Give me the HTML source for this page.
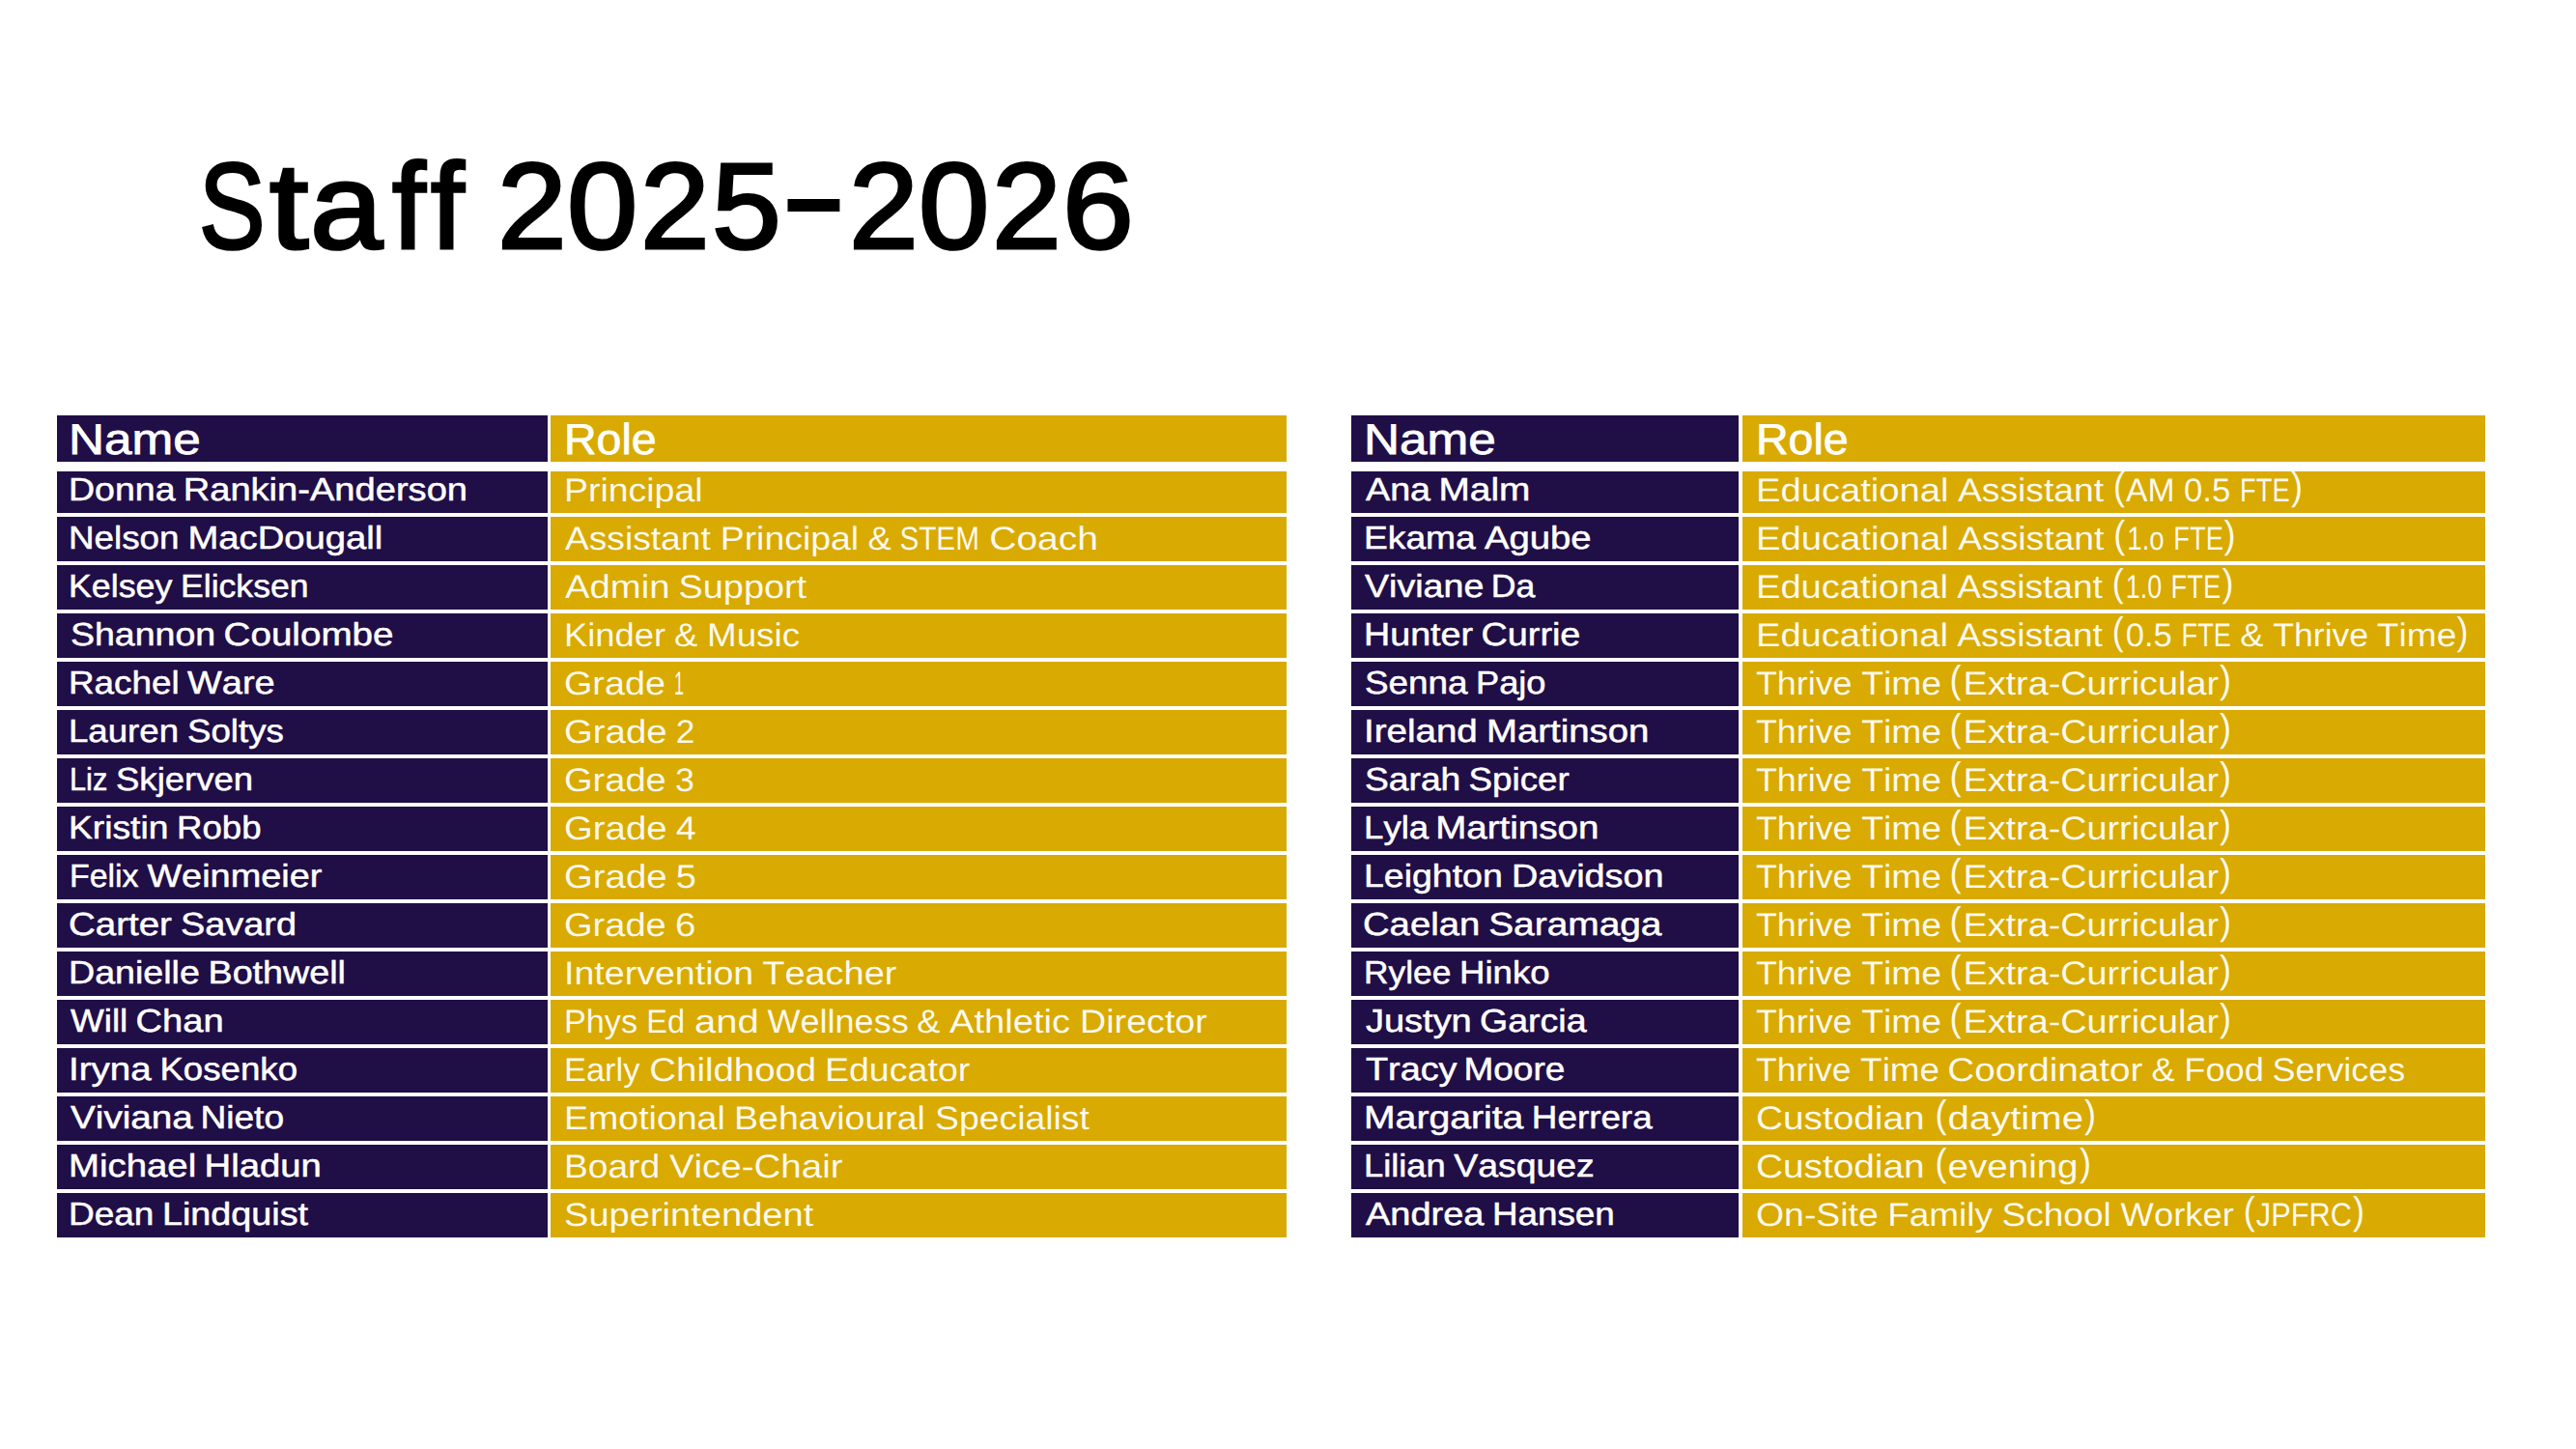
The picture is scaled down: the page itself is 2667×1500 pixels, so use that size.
<!DOCTYPE html>
<html lang="en">
<head>
<meta charset="utf-8">
<title>Staff 2025-2026</title>
<style>
html,body{margin:0;padding:0;background:#fff}
body{width:2667px;height:1500px;position:relative;overflow:hidden;
 font-family:"Liberation Sans",sans-serif;font-kerning:none;font-variant-ligatures:none;text-rendering:geometricPrecision}
h1,span,i,.r,.c{position:absolute;font-style:normal;top:0;margin:0;white-space:nowrap;line-height:1;transform-origin:0 0;font-weight:400}
.r{left:0;width:2667px}
.p{transform-origin:0 0.8465em}
.c{height:100%}
h1{left:0;top:0;width:2667px;height:400px;font-size:126.5px;color:#000;-webkit-text-stroke:3.1px #000}
h1 span{font-size:inherit}
.t1 .n{left:59.1px;width:507.6px}
.t1 .v{left:570.1px;width:761.7px}
.t2 .n{left:1399.2px;width:400.5px}
.t2 .v{left:1804.2px;width:768.6px}
.n{background:#200e47}
.v{background:#d9aa01}
.a{font-size:33.3px;color:#fff;-webkit-text-stroke:0.5px #fff}
.b{font-size:34.0px;color:rgba(255,255,255,.94)}
.h{font-size:44.7px;color:#fff;-webkit-text-stroke:0.75px #fff}
</style>
</head>
<body>
<h1><span style="left:206.1px;top:149.9px;transform:scaleX(0.812)">S</span><span style="left:278.7px;top:149.9px;transform:scaleX(1.149)">t</span><span style="left:320.6px;top:149.9px;transform:scaleX(1.068)">a</span><span style="left:406.3px;top:149.9px;transform:scaleX(0.984)">f</span><span style="left:445.5px;top:149.9px;transform:scaleX(0.984)">f</span> <span style="left:514.9px;top:149.9px;transform:scaleX(1.019)">2</span><span style="left:587.4px;top:149.9px;transform:scaleX(1.041)">0</span><span style="left:662.8px;top:149.9px;transform:scaleX(1.019)">2</span><span style="left:737.1px;top:149.9px;transform:scaleX(1.020)">5</span><span style="left:808.7px;top:139.2px;transform:scaleX(1.587)">-</span><span style="left:878.7px;top:149.9px;transform:scaleX(1.020)">2</span><span style="left:951.3px;top:149.9px;transform:scaleX(1.042)">0</span><span style="left:1026.8px;top:149.9px;transform:scaleX(1.020)">2</span><span style="left:1099.6px;top:149.9px;transform:scaleX(1.049)">6</span></h1>
<section class="tbl t1">
<div class="r hd" style="top:430.0px;height:47.8px"><div class="c n"><span class="h" style="left:11.9px;top:3.5px;transform:scaleX(1.0077)"><i style="left:0.0px;transform:scaleX(1.139)">Name</i></span></div><div class="c v"><span class="h" style="left:13.9px;top:3.5px"><i style="left:0.0px;transform:scaleX(1.040)">Role</i></span></div></div>
<div class="r" style="top:488.4px;height:42.2px"><div class="c n"><span class="a" style="left:11.9px;top:2.8px;transform:scaleX(0.9974)"><i style="left:0.0px;transform:scaleX(1.129)">Donna</i> <i style="left:119.4px;transform:scaleX(1.147)">Rankin-Anderson</i></span></div><div class="c v"><span class="b" style="left:13.5px;top:2.5px"><i style="left:0.0px;transform:scaleX(1.101)">Principal</i></span></div></div>
<div class="r" style="top:535.3px;height:45.4px"><div class="c n"><span class="a" style="left:11.9px;top:5.9px;transform:scaleX(1.0031)"><i style="left:0.0px;transform:scaleX(1.101)">Nelson</i> <i style="left:122.7px;transform:scaleX(1.145)">MacDougall</i></span></div><div class="c v"><span class="b" style="left:14.5px;top:5.6px;transform:scaleX(0.9982)"><i style="left:0.0px;transform:scaleX(1.095)">Assistant</i> <i style="left:160.5px;transform:scaleX(1.102)">Principal</i> <i style="left:313.6px;transform:scaleX(1.073)">&amp;</i> <i style="left:347.4px;transform:scaleX(0.876)">STEM</i> <i style="left:439.6px;transform:scaleX(1.150)">Coach</i></span></div></div>
<div class="r" style="top:585.3px;height:45.4px"><div class="c n"><span class="a" style="left:11.9px;top:5.9px;transform:scaleX(0.9918)"><i style="left:0.0px;transform:scaleX(1.083)">Kelsey</i> <i style="left:116.9px;transform:scaleX(1.077)">Elicksen</i></span></div><div class="c v"><span class="b" style="left:14.5px;top:5.6px;transform:scaleX(0.9960)"><i style="left:0.0px;transform:scaleX(1.130)">Admin</i> <i style="left:118.4px;transform:scaleX(1.118)">Support</i></span></div></div>
<div class="r" style="top:635.3px;height:45.4px"><div class="c n"><span class="a" style="left:13.9px;top:5.9px;transform:scaleX(0.9970)"><i style="left:0.0px;transform:scaleX(1.129)">Shannon</i> <i style="left:159.2px;transform:scaleX(1.163)">Coulombe</i></span></div><div class="c v"><span class="b" style="left:13.5px;top:5.6px"><i style="left:0.0px;transform:scaleX(1.070)">Kinder</i> <i style="left:114.7px;transform:scaleX(1.073)">&amp;</i> <i style="left:148.5px;transform:scaleX(1.082)">Music</i></span></div></div>
<div class="r" style="top:685.3px;height:45.4px"><div class="c n"><span class="a" style="left:11.9px;top:5.9px"><i style="left:0.0px;transform:scaleX(1.106)">Rachel</i> <i style="left:123.3px;transform:scaleX(1.140)">Ware</i></span></div><div class="c v"><span class="b" style="left:13.5px;top:5.6px;transform:scaleX(0.9918)"><i style="left:0.0px;transform:scaleX(1.119)">Grade</i> <i style="left:115.2px;transform:scaleX(0.535)">1</i></span></div></div>
<div class="r" style="top:735.3px;height:45.4px"><div class="c n"><span class="a" style="left:11.9px;top:5.9px"><i style="left:0.0px;transform:scaleX(1.100)">Lauren</i> <i style="left:122.7px;transform:scaleX(1.101)">Soltys</i></span></div><div class="c v"><span class="b" style="left:13.5px;top:5.6px;transform:scaleX(1.0076)"><i style="left:0.0px;transform:scaleX(1.119)">Grade</i> <i style="left:115.2px;transform:scaleX(1.029)">2</i></span></div></div>
<div class="r" style="top:785.3px;height:45.4px"><div class="c n"><span class="a" style="left:12.9px;top:5.9px"><i style="left:0.0px;transform:scaleX(0.923)">Liz</i> <i style="left:48.0px;transform:scaleX(1.097)">Skjerven</i></span></div><div class="c v"><span class="b" style="left:13.5px;top:5.6px"><i style="left:0.0px;transform:scaleX(1.119)">Grade</i> <i style="left:115.2px;transform:scaleX(1.052)">3</i></span></div></div>
<div class="r" style="top:835.3px;height:45.4px"><div class="c n"><span class="a" style="left:11.9px;top:5.9px"><i style="left:0.0px;transform:scaleX(1.117)">Kristin</i> <i style="left:112.0px;transform:scaleX(1.100)">Robb</i></span></div><div class="c v"><span class="b" style="left:13.5px;top:5.6px;transform:scaleX(1.0075)"><i style="left:0.0px;transform:scaleX(1.119)">Grade</i> <i style="left:115.2px;transform:scaleX(1.101)">4</i></span></div></div>
<div class="r" style="top:885.3px;height:45.4px"><div class="c n"><span class="a" style="left:12.9px;top:5.9px;transform:scaleX(0.9923)"><i style="left:0.0px;transform:scaleX(1.024)">Felix</i> <i style="left:80.6px;transform:scaleX(1.146)">Weinmeier</i></span></div><div class="c v"><span class="b" style="left:13.5px;top:5.6px;transform:scaleX(1.0076)"><i style="left:0.0px;transform:scaleX(1.119)">Grade</i> <i style="left:115.2px;transform:scaleX(1.108)">5</i></span></div></div>
<div class="r" style="top:935.3px;height:45.4px"><div class="c n"><span class="a" style="left:11.9px;top:5.9px"><i style="left:0.0px;transform:scaleX(1.156)">Carter</i> <i style="left:115.6px;transform:scaleX(1.137)">Savard</i></span></div><div class="c v"><span class="b" style="left:13.5px;top:5.6px"><i style="left:0.0px;transform:scaleX(1.119)">Grade</i> <i style="left:115.2px;transform:scaleX(1.130)">6</i></span></div></div>
<div class="r" style="top:985.3px;height:45.4px"><div class="c n"><span class="a" style="left:11.9px;top:5.9px;transform:scaleX(1.0036)"><i style="left:0.0px;transform:scaleX(1.125)">Danielle</i> <i style="left:144.0px;transform:scaleX(1.128)">Bothwell</i></span></div><div class="c v"><span class="b" style="left:13.5px;top:5.6px;transform:scaleX(0.9819)"><i style="left:0.0px;transform:scaleX(1.125)">Intervention</i> <i style="left:209.4px;transform:scaleX(1.137)">Teacher</i></span></div></div>
<div class="r" style="top:1035.3px;height:45.4px"><div class="c n"><span class="a" style="left:13.9px;top:5.9px;transform:scaleX(0.9937)"><i style="left:0.0px;transform:scaleX(1.113)">Will</i> <i style="left:68.3px;transform:scaleX(1.151)">Chan</i></span></div><div class="c v"><span class="b" style="left:13.5px;top:5.6px;transform:scaleX(0.9927)"><i style="left:0.0px;transform:scaleX(1.013)">Phys</i> <i style="left:86.0px;transform:scaleX(0.962)">Ed</i> <i style="left:135.5px;transform:scaleX(1.185)">and</i> <i style="left:212.2px;transform:scaleX(1.068)">Wellness</i> <i style="left:368.3px;transform:scaleX(1.073)">&amp;</i> <i style="left:402.2px;transform:scaleX(1.130)">Athletic</i> <i style="left:537.6px;transform:scaleX(1.115)">Director</i></span></div></div>
<div class="r" style="top:1085.3px;height:45.4px"><div class="c n"><span class="a" style="left:11.9px;top:5.9px;transform:scaleX(1.0043)"><i style="left:0.0px;transform:scaleX(1.151)">Iryna</i> <i style="left:93.9px;transform:scaleX(1.096)">Kosenko</i></span></div><div class="c v"><span class="b" style="left:13.5px;top:5.6px;transform:scaleX(0.9922)"><i style="left:0.0px;transform:scaleX(1.020)">Early</i> <i style="left:88.5px;transform:scaleX(1.138)">Childhood</i> <i style="left:272.2px;transform:scaleX(1.114)">Educator</i></span></div></div>
<div class="r" style="top:1135.3px;height:45.4px"><div class="c n"><span class="a" style="left:13.9px;top:5.9px;transform:scaleX(0.9955)"><i style="left:0.0px;transform:scaleX(1.167)">Viviana</i> <i style="left:135.4px;transform:scaleX(1.120)">Nieto</i></span></div><div class="c v"><span class="b" style="left:13.5px;top:5.6px;transform:scaleX(0.9949)"><i style="left:0.0px;transform:scaleX(1.109)">Emotional</i> <i style="left:177.2px;transform:scaleX(1.107)">Behavioural</i> <i style="left:385.5px;transform:scaleX(1.104)">Specialist</i></span></div></div>
<div class="r" style="top:1185.3px;height:45.4px"><div class="c n"><span class="a" style="left:11.9px;top:5.9px;transform:scaleX(1.0039)"><i style="left:0.0px;transform:scaleX(1.148)">Michael</i> <i style="left:140.4px;transform:scaleX(1.144)">Hladun</i></span></div><div class="c v"><span class="b" style="left:13.5px;top:5.6px;transform:scaleX(0.9900)"><i style="left:0.0px;transform:scaleX(1.104)">Board</i> <i style="left:109.7px;transform:scaleX(1.143)">Vice-Chair</i></span></div></div>
<div class="r" style="top:1235.3px;height:45.4px"><div class="c n"><span class="a" style="left:11.9px;top:5.9px"><i style="left:0.0px;transform:scaleX(1.111)">Dean</i> <i style="left:97.1px;transform:scaleX(1.133)">Lindquist</i></span></div><div class="c v"><span class="b" style="left:13.5px;top:5.6px;transform:scaleX(0.9961)"><i style="left:0.0px;transform:scaleX(1.124)">Superintendent</i></span></div></div>
</section>
<section class="tbl t2">
<div class="r hd" style="top:430.0px;height:47.8px"><div class="c n"><span class="h" style="left:13.1px;top:3.5px;transform:scaleX(1.0077)"><i style="left:0.0px;transform:scaleX(1.139)">Name</i></span></div><div class="c v"><span class="h" style="left:13.8px;top:3.5px"><i style="left:0.0px;transform:scaleX(1.040)">Role</i></span></div></div>
<div class="r" style="top:488.4px;height:42.2px"><div class="c n"><span class="a" style="left:15.1px;top:2.8px;transform:scaleX(0.9941)"><i style="left:0.0px;transform:scaleX(1.139)">Ana</i> <i style="left:76.1px;transform:scaleX(1.172)">Malm</i></span></div><div class="c v"><span class="b" style="left:13.4px;top:2.5px"><i style="left:0.0px;transform:scaleX(1.123)">Educational</i> <i style="left:209.0px;transform:scaleX(1.095)">Assistant</i> <i class="p" style="left:370.4px;transform:translateY(-2px) scale(1.057,1.177)">(</i><i style="left:383.8px;transform:scaleX(0.991)">AM</i> <i style="left:443.9px;transform:scaleX(1.022)">0.5</i> <i style="left:501.6px;transform:scaleX(0.804)">FTE</i><i class="p" style="left:554.4px;transform:translateY(-2px) scale(1.057,1.177)">)</i></span></div></div>
<div class="r" style="top:535.3px;height:45.4px"><div class="c n"><span class="a" style="left:13.1px;top:5.9px"><i style="left:0.0px;transform:scaleX(1.117)">Ekama</i> <i style="left:124.4px;transform:scaleX(1.149)">Agube</i></span></div><div class="c v"><span class="b" style="left:13.4px;top:5.6px;transform:scaleX(1.0008)"><i style="left:0.0px;transform:scaleX(1.123)">Educational</i> <i style="left:209.0px;transform:scaleX(1.095)">Assistant</i> <i class="p" style="left:370.4px;transform:translateY(-2px) scale(1.057,1.177)">(</i><i style="left:383.8px;transform:scaleX(0.811)">1.o</i> <i style="left:431.7px;transform:scaleX(0.804)">FTE</i><i class="p" style="left:484.4px;transform:translateY(-2px) scale(1.057,1.177)">)</i></span></div></div>
<div class="r" style="top:585.3px;height:45.4px"><div class="c n"><span class="a" style="left:14.1px;top:5.9px;transform:scaleX(0.9835)"><i style="left:0.0px;transform:scaleX(1.148)">Viviane</i> <i style="left:133.4px;transform:scaleX(1.086)">Da</i></span></div><div class="c v"><span class="b" style="left:13.4px;top:5.6px;transform:scaleX(0.9968)"><i style="left:0.0px;transform:scaleX(1.123)">Educational</i> <i style="left:209.0px;transform:scaleX(1.095)">Assistant</i> <i class="p" style="left:370.4px;transform:translateY(-2px) scale(1.057,1.177)">(</i><i style="left:383.8px;transform:scaleX(0.792)">1.0</i> <i style="left:430.8px;transform:scaleX(0.804)">FTE</i><i class="p" style="left:483.5px;transform:translateY(-2px) scale(1.057,1.177)">)</i></span></div></div>
<div class="r" style="top:635.3px;height:45.4px"><div class="c n"><span class="a" style="left:13.1px;top:5.9px;transform:scaleX(1.0046)"><i style="left:0.0px;transform:scaleX(1.126)">Hunter</i> <i style="left:121.2px;transform:scaleX(1.129)">Currie</i></span></div><div class="c v"><span class="b" style="left:13.4px;top:5.6px;transform:scaleX(0.9967)"><i style="left:0.0px;transform:scaleX(1.123)">Educational</i> <i style="left:209.0px;transform:scaleX(1.095)">Assistant</i> <i class="p" style="left:370.4px;transform:translateY(-2px) scale(1.057,1.177)">(</i><i style="left:383.8px;transform:scaleX(1.022)">0.5</i> <i style="left:441.6px;transform:scaleX(0.804)">FTE</i> <i style="left:502.8px;transform:scaleX(1.073)">&amp;</i> <i style="left:536.6px;transform:scaleX(1.051)">Thrive</i> <i style="left:645.4px;transform:scaleX(1.094)">Time</i><i class="p" style="left:727.7px;transform:translateY(-2px) scale(1.057,1.177)">)</i></span></div></div>
<div class="r" style="top:685.3px;height:45.4px"><div class="c n"><span class="a" style="left:14.1px;top:5.9px"><i style="left:0.0px;transform:scaleX(1.107)">Senna</i> <i style="left:115.2px;transform:scaleX(1.088)">Pajo</i></span></div><div class="c v"><span class="b" style="left:13.4px;top:5.6px;transform:scaleX(1.0021)"><i style="left:0.0px;transform:scaleX(1.051)">Thrive</i> <i style="left:108.8px;transform:scaleX(1.094)">Time</i> <i class="p" style="left:200.4px;transform:translateY(-2px) scale(1.057,1.177)">(</i><i style="left:213.9px;transform:scaleX(1.109)">Extra-Curricular</i><i class="p" style="left:479.0px;transform:translateY(-2px) scale(1.057,1.177)">)</i></span></div></div>
<div class="r" style="top:735.3px;height:45.4px"><div class="c n"><span class="a" style="left:13.1px;top:5.9px"><i style="left:0.0px;transform:scaleX(1.157)">Ireland</i> <i style="left:126.4px;transform:scaleX(1.151)">Martinson</i></span></div><div class="c v"><span class="b" style="left:13.4px;top:5.6px;transform:scaleX(1.0021)"><i style="left:0.0px;transform:scaleX(1.051)">Thrive</i> <i style="left:108.8px;transform:scaleX(1.094)">Time</i> <i class="p" style="left:200.4px;transform:translateY(-2px) scale(1.057,1.177)">(</i><i style="left:213.9px;transform:scaleX(1.109)">Extra-Curricular</i><i class="p" style="left:479.0px;transform:translateY(-2px) scale(1.057,1.177)">)</i></span></div></div>
<div class="r" style="top:785.3px;height:45.4px"><div class="c n"><span class="a" style="left:14.1px;top:5.9px;transform:scaleX(0.9953)"><i style="left:0.0px;transform:scaleX(1.123)">Sarah</i> <i style="left:108.4px;transform:scaleX(1.111)">Spicer</i></span></div><div class="c v"><span class="b" style="left:13.4px;top:5.6px;transform:scaleX(1.0021)"><i style="left:0.0px;transform:scaleX(1.051)">Thrive</i> <i style="left:108.8px;transform:scaleX(1.094)">Time</i> <i class="p" style="left:200.4px;transform:translateY(-2px) scale(1.057,1.177)">(</i><i style="left:213.9px;transform:scaleX(1.109)">Extra-Curricular</i><i class="p" style="left:479.0px;transform:translateY(-2px) scale(1.057,1.177)">)</i></span></div></div>
<div class="r" style="top:835.3px;height:45.4px"><div class="c n"><span class="a" style="left:13.1px;top:5.9px;transform:scaleX(1.0042)"><i style="left:0.0px;transform:scaleX(1.096)">Lyla</i> <i style="left:74.2px;transform:scaleX(1.151)">Martinson</i></span></div><div class="c v"><span class="b" style="left:13.4px;top:5.6px;transform:scaleX(1.0021)"><i style="left:0.0px;transform:scaleX(1.051)">Thrive</i> <i style="left:108.8px;transform:scaleX(1.094)">Time</i> <i class="p" style="left:200.4px;transform:translateY(-2px) scale(1.057,1.177)">(</i><i style="left:213.9px;transform:scaleX(1.109)">Extra-Curricular</i><i class="p" style="left:479.0px;transform:translateY(-2px) scale(1.057,1.177)">)</i></span></div></div>
<div class="r" style="top:885.3px;height:45.4px"><div class="c n"><span class="a" style="left:13.1px;top:5.9px"><i style="left:0.0px;transform:scaleX(1.125)">Leighton</i> <i style="left:152.3px;transform:scaleX(1.135)">Davidson</i></span></div><div class="c v"><span class="b" style="left:13.4px;top:5.6px;transform:scaleX(1.0021)"><i style="left:0.0px;transform:scaleX(1.051)">Thrive</i> <i style="left:108.8px;transform:scaleX(1.094)">Time</i> <i class="p" style="left:200.4px;transform:translateY(-2px) scale(1.057,1.177)">(</i><i style="left:213.9px;transform:scaleX(1.109)">Extra-Curricular</i><i class="p" style="left:479.0px;transform:translateY(-2px) scale(1.057,1.177)">)</i></span></div></div>
<div class="r" style="top:935.3px;height:45.4px"><div class="c n"><span class="a" style="left:12.1px;top:5.9px;transform:scaleX(0.9935)"><i style="left:0.0px;transform:scaleX(1.156)">Caelan</i> <i style="left:130.6px;transform:scaleX(1.175)">Saramaga</i></span></div><div class="c v"><span class="b" style="left:13.4px;top:5.6px;transform:scaleX(1.0021)"><i style="left:0.0px;transform:scaleX(1.051)">Thrive</i> <i style="left:108.8px;transform:scaleX(1.094)">Time</i> <i class="p" style="left:200.4px;transform:translateY(-2px) scale(1.057,1.177)">(</i><i style="left:213.9px;transform:scaleX(1.109)">Extra-Curricular</i><i class="p" style="left:479.0px;transform:translateY(-2px) scale(1.057,1.177)">)</i></span></div></div>
<div class="r" style="top:985.3px;height:45.4px"><div class="c n"><span class="a" style="left:13.1px;top:5.9px"><i style="left:0.0px;transform:scaleX(1.062)">Rylee</i> <i style="left:99.0px;transform:scaleX(1.100)">Hinko</i></span></div><div class="c v"><span class="b" style="left:13.4px;top:5.6px;transform:scaleX(1.0021)"><i style="left:0.0px;transform:scaleX(1.051)">Thrive</i> <i style="left:108.8px;transform:scaleX(1.094)">Time</i> <i class="p" style="left:200.4px;transform:translateY(-2px) scale(1.057,1.177)">(</i><i style="left:213.9px;transform:scaleX(1.109)">Extra-Curricular</i><i class="p" style="left:479.0px;transform:translateY(-2px) scale(1.057,1.177)">)</i></span></div></div>
<div class="r" style="top:1035.3px;height:45.4px"><div class="c n"><span class="a" style="left:15.1px;top:5.9px;transform:scaleX(0.9829)"><i style="left:0.0px;transform:scaleX(1.160)">Justyn</i> <i style="left:120.3px;transform:scaleX(1.148)">Garcia</i></span></div><div class="c v"><span class="b" style="left:13.4px;top:5.6px;transform:scaleX(1.0021)"><i style="left:0.0px;transform:scaleX(1.051)">Thrive</i> <i style="left:108.8px;transform:scaleX(1.094)">Time</i> <i class="p" style="left:200.4px;transform:translateY(-2px) scale(1.057,1.177)">(</i><i style="left:213.9px;transform:scaleX(1.109)">Extra-Curricular</i><i class="p" style="left:479.0px;transform:translateY(-2px) scale(1.057,1.177)">)</i></span></div></div>
<div class="r" style="top:1085.3px;height:45.4px"><div class="c n"><span class="a" style="left:15.1px;top:5.9px;transform:scaleX(0.9951)"><i style="left:0.0px;transform:scaleX(1.141)">Tracy</i> <i style="left:102.2px;transform:scaleX(1.116)">Moore</i></span></div><div class="c v"><span class="b" style="left:13.4px;top:5.6px;transform:scaleX(0.9917)"><i style="left:0.0px;transform:scaleX(1.051)">Thrive</i> <i style="left:108.8px;transform:scaleX(1.094)">Time</i> <i style="left:199.5px;transform:scaleX(1.147)">Coordinator</i> <i style="left:412.7px;transform:scaleX(1.074)">&amp;</i> <i style="left:446.5px;transform:scaleX(1.074)">Food</i> <i style="left:539.2px;transform:scaleX(1.065)">Services</i></span></div></div>
<div class="r" style="top:1135.3px;height:45.4px"><div class="c n"><span class="a" style="left:13.1px;top:5.9px;transform:scaleX(0.9933)"><i style="left:0.0px;transform:scaleX(1.184)">Margarita</i> <i style="left:175.2px;transform:scaleX(1.113)">Herrera</i></span></div><div class="c v"><span class="b" style="left:13.4px;top:5.6px;transform:scaleX(1.0029)"><i style="left:0.0px;transform:scaleX(1.137)">Custodian</i> <i class="p" style="left:184.5px;transform:translateY(-2px) scale(1.057,1.177)">(</i><i style="left:198.0px;transform:scaleX(1.176)">daytime</i><i class="p" style="left:339.1px;transform:translateY(-2px) scale(1.057,1.177)">)</i></span></div></div>
<div class="r" style="top:1185.3px;height:45.4px"><div class="c n"><span class="a" style="left:13.1px;top:5.9px;transform:scaleX(0.9915)"><i style="left:0.0px;transform:scaleX(1.099)">Lilian</i> <i style="left:94.1px;transform:scaleX(1.133)">Vasquez</i></span></div><div class="c v"><span class="b" style="left:13.4px;top:5.6px;transform:scaleX(1.0029)"><i style="left:0.0px;transform:scaleX(1.137)">Custodian</i> <i class="p" style="left:184.5px;transform:translateY(-2px) scale(1.057,1.177)">(</i><i style="left:198.0px;transform:scaleX(1.130)">evening</i><i class="p" style="left:333.7px;transform:translateY(-2px) scale(1.057,1.177)">)</i></span></div></div>
<div class="r" style="top:1235.3px;height:45.4px"><div class="c n"><span class="a" style="left:15.1px;top:5.9px;transform:scaleX(0.9922)"><i style="left:0.0px;transform:scaleX(1.149)">Andrea</i> <i style="left:132.1px;transform:scaleX(1.113)">Hansen</i></span></div><div class="c v"><span class="b" style="left:13.4px;top:5.6px;transform:scaleX(1.0016)"><i style="left:0.0px;transform:scaleX(1.098)">On-Site</i> <i style="left:136.0px;transform:scaleX(1.085)">Family</i> <i style="left:254.2px;transform:scaleX(1.089)">School</i> <i style="left:376.9px;transform:scaleX(1.068)">Worker</i> <i class="p" style="left:503.6px;transform:translateY(-2px) scale(1.057,1.177)">(</i><i style="left:517.1px;transform:scaleX(0.904)">JPFRC</i><i class="p" style="left:617.2px;transform:translateY(-2px) scale(1.057,1.177)">)</i></span></div></div>
</section>
</body>
</html>
